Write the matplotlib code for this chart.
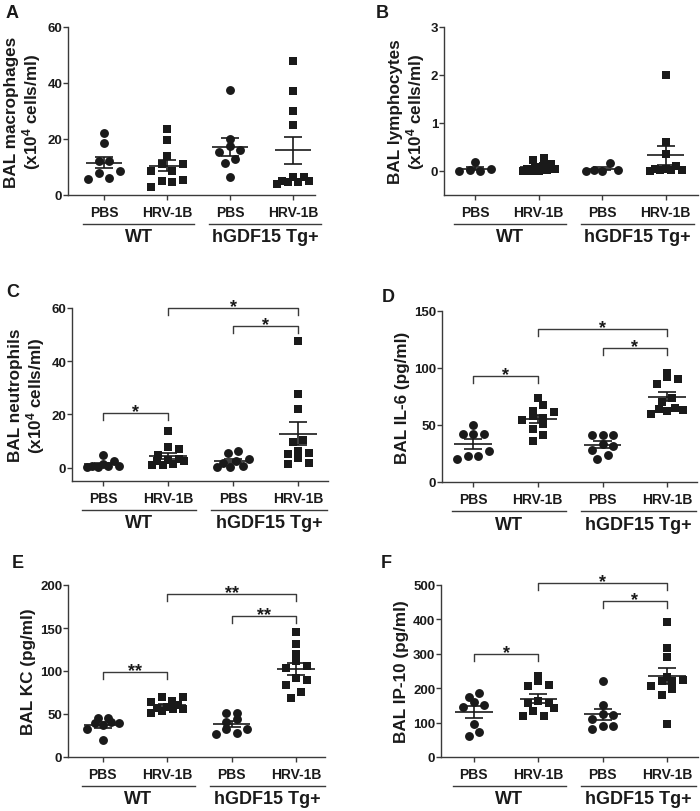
import numpy as np
import matplotlib
matplotlib.use("Agg")
import matplotlib.pyplot as plt
from matplotlib.lines import Line2D
from matplotlib.transforms import ScaledTranslation

plt.rcParams.update({
    "font.family": "Liberation Sans",
    "font.weight": "bold",
    "axes.labelweight": "bold",
    "mathtext.fontset": "custom",
    "mathtext.rm": "Liberation Sans:bold",
    "mathtext.bf": "Liberation Sans:bold",
    "mathtext.it": "Liberation Sans:bold",
})

# x categories
treatments = ["PBS", "HRV-1B", "PBS", "HRV-1B"]
genotypes = ["WT", "hGDF15 Tg+"]

# values per group: WT PBS, WT HRV-1B, Tg PBS, Tg HRV-1B
macrophages = [
    [22.0, 18.5, 12.0, 12.0, 8.5, 7.7, 6.0, 5.8],
    [23.5, 19.6, 14.0, 11.2, 11.2, 8.4, 8.4, 5.5, 5.1, 4.5, 3.0],
    [37.5, 20.0, 17.6, 16.0, 15.2, 13.0, 11.6, 6.3],
    [48.0, 37.0, 30.0, 25.0, 6.3, 6.3, 5.1, 5.0, 4.8, 4.5, 3.9],
]
lymphocytes = [
    [0.18, 0.04, 0.02, 0.0, 0.0],
    [0.27, 0.22, 0.14, 0.10, 0.08, 0.05, 0.04, 0.02, 0.0, 0.0, 0.0],
    [0.17, 0.03, 0.02, 0.0, 0.0],
    [2.0, 0.6, 0.36, 0.1, 0.05, 0.04, 0.03, 0.02, 0.02, 0.01],
]
neutrophils = [
    [4.7, 2.5, 1.5, 0.8, 0.5, 0.5, 0.3, 0.2],
    [13.8, 7.6, 7.1, 4.7, 3.1, 2.9, 2.5, 2.5, 1.2, 1.0, 1.0],
    [6.2, 5.7, 3.2, 2.5, 1.9, 0.5, 0.4, 0.4],
    [47.5, 27.8, 22.2, 10.3, 9.5, 6.2, 5.6, 5.1, 3.5, 1.6, 1.2],
]
il6 = [
    [50.4, 41.7, 41.7, 41.7, 26.8, 22.7, 22.7, 19.8],
    [74.0, 67.5, 62.0, 61.0, 58.0, 56.0, 54.0, 51.0, 46.5, 41.0, 36.0],
    [41.5, 41.5, 41.5, 33.0, 32.0, 28.5, 24.0, 20.0],
    [96.0, 92.5, 90.5, 86.0, 73.5, 70.0, 65.0, 64.0, 63.0, 62.0, 60.0],
]
kc = [
    [45.6, 45.0, 40.5, 39.4, 39.4, 36.7, 32.0, 19.3],
    [69.5, 69.5, 65.0, 63.7, 60.0, 58.0, 56.8, 56.0, 56.0, 53.3, 51.4],
    [51.4, 51.4, 44.4, 40.5, 32.0, 32.0, 28.2, 26.3],
    [145.6, 131.3, 119.7, 112.0, 106.0, 104.0, 91.5, 90.0, 84.0, 76.0, 68.3],
]
ip10 = [
    [186, 174, 159, 150, 145, 96, 72, 61],
    [235, 222, 210, 205, 162, 158, 158, 142, 135, 120, 120],
    [220, 152, 125, 123, 110, 90, 90, 82],
    [391, 317, 292, 234, 223, 222, 220, 207, 198, 181, 95],
]

# significance brackets: (group a, group b, y, label)
sig_c = [(0, 1, 20.6, "*"), (2, 3, 53.1, "*"), (1, 3, 60.0, "*")]
sig_d = [(0, 1, 93.0, "*"), (2, 3, 117.5, "*"), (1, 3, 134.0, "*")]
sig_e = [(0, 1, 98.5, "**"), (2, 3, 164.0, "**"), (1, 3, 189.0, "**")]
sig_f = [(0, 1, 299.0, "*"), (2, 3, 454.0, "*"), (1, 3, 507.0, "*")]

W, H = 700, 812
fig = plt.figure(figsize=(W / 100, H / 100), dpi=100)
INK = "#1a1a1a"
LINE = "#3a3a3a"


def add_panel(left, top, right, bottom, xlim):
    ax = fig.add_axes([left / W, 1 - bottom / H, (right - left) / W, (bottom - top) / H])
    ax.set_xlim(*xlim)
    return ax


def row_x(ax, x0, vals, d_px=10.5, bin_px=8.5, max_w=32):
    # GraphPad-like scatter: group close values into rows, center each row
    tr = ax.transData
    ypix = tr.transform(np.column_stack([np.full(len(vals), x0), vals]))[:, 1]
    ppx = tr.transform([[1, 0]])[0, 0] - tr.transform([[0, 0]])[0, 0]
    order = np.argsort(ypix, kind="stable")
    rows, cur, start = [], [order[0]], ypix[order[0]]
    for i in order[1:]:
        if ypix[i] - start < bin_px:
            cur.append(i)
        else:
            rows.append(cur)
            cur, start = [i], ypix[i]
    rows.append(cur)
    offs = np.zeros(len(vals))
    for row in rows:
        n = len(row)
        sp = d_px if n < 2 else min(d_px, max_w / (n - 1))
        # zigzag slots so a row does not look like a slope
        slots = list(range(0, n, 2)) + list(range(1, n, 2))
        for k, i in zip(slots, row):
            offs[i] = (k - (n - 1) / 2) * sp / ppx
    return x0 + offs


def px_down(ax, px):
    return ax.get_xaxis_transform() + ScaledTranslation(0, -px / 100, fig.dpi_scale_trans)


def draw_panel(ax, data, ylim, yticks, ylabel, letter, letter_xy, sig=None, labelpad=3):
    ax.set_ylim(*ylim)
    for g, vals in enumerate(data):
        vals = np.asarray(vals, dtype=float)
        xs = row_x(ax, g, vals)
        marker = "o" if g % 2 == 0 else "s"
        ms = 6.4 if marker == "o" else 5.8
        ax.plot(xs, vals, linestyle="none", marker=marker, ms=ms, color=INK,
                markeredgewidth=0, zorder=3, clip_on=False)
        m = vals.mean()
        se = vals.std(ddof=1) / np.sqrt(len(vals))
        ax.hlines(m, g - 0.29, g + 0.29, color=INK, lw=1.2, zorder=4)
        ax.vlines(g, m - se, m + se, color=INK, lw=1.2, zorder=4)
        ax.hlines([m - se, m + se], g - 0.14, g + 0.14, color=INK, lw=1.2, zorder=4)

    for s in ["top", "right"]:
        ax.spines[s].set_visible(False)
    for s in ["left", "bottom"]:
        ax.spines[s].set_color(LINE)
        ax.spines[s].set_linewidth(1.0)
    ax.set_yticks(yticks)
    ax.set_xticks(range(4))
    ax.set_xticklabels(treatments)
    ax.tick_params(axis="both", direction="out", length=3.6, width=1.0, color=LINE,
                   labelcolor=INK)
    ax.tick_params(axis="x", pad=3.5, labelsize=10)
    ax.tick_params(axis="y", pad=0.5, labelsize=9.5)
    ax.set_ylabel(ylabel, fontsize=12.3, color=INK, labelpad=labelpad, linespacing=1.05)

    # genotype underline + labels
    for name, (a, b) in zip(genotypes, [(-0.33, 1.43), (1.66, 3.45)]):
        ax.add_line(Line2D([a, b], [0, 0], transform=px_down(ax, 29), color=LINE,
                           lw=1.0, clip_on=False))
        ax.text((a + b) / 2, 0, name, transform=px_down(ax, 42), ha="center",
                va="center", fontsize=13, color=INK, clip_on=False)

    if sig:
        tr = ax.transData
        ppy = tr.transform([[0, 1]])[0, 1] - tr.transform([[0, 0]])[0, 1]
        tick = 7 / ppy
        for a, b, y, lab in sig:
            ax.plot([a, a, b, b], [y - tick, y, y, y - tick], color=LINE, lw=1.0,
                    clip_on=False, zorder=2)
            ax.annotate(lab, xy=((a + b) / 2, y), xytext=(0, -2.2), textcoords="offset points",
                        ha="center", va="baseline", fontsize=13, color=INK,
                        annotation_clip=False)

    fig.text(letter_xy[0] / W, 1 - letter_xy[1] / H, letter, fontsize=13,
             fontweight="bold", color=INK, ha="left", va="center")


ax_a = add_panel(68, 28, 315, 196, (-0.571, 3.349))
draw_panel(ax_a, macrophages, (0, 60), [0, 20, 40, 60],
           "BAL macrophages\n(x10$^{4}$ cells/ml)", "A", (6, 13))

ax_b = add_panel(444, 28, 698, 196, (-0.49, 3.51))
draw_panel(ax_b, lymphocytes, (-0.5, 3), [0, 1, 2, 3],
           "BAL lymphocytes\n(x10$^{4}$ cells/ml)", "B", (376, 13))

ax_c = add_panel(72, 309, 328, 482, (-0.477, 3.46))
draw_panel(ax_c, neutrophils, (-5, 60), [0, 20, 40, 60],
           "BAL neutrophils\n(x10$^{4}$ cells/ml)", "C", (6, 293), sig=sig_c)

ax_d = add_panel(442, 312, 697, 483, (-0.48, 3.46))
draw_panel(ax_d, il6, (0, 150), [0, 50, 100, 150],
           "BAL IL-6 (pg/ml)", "D", (382, 297), sig=sig_d)

ax_e = add_panel(68, 586, 325, 758, (-0.54, 3.45))
draw_panel(ax_e, kc, (0, 200), [0, 50, 100, 150, 200],
           "BAL KC (pg/ml)", "E", (12, 563), sig=sig_e)

ax_f = add_panel(441, 586, 698, 758, (-0.51, 3.48))
draw_panel(ax_f, ip10, (0, 500), [0, 100, 200, 300, 400, 500],
           "BAL IP-10 (pg/ml)", "F", (381, 563), sig=sig_f)

fig.savefig("out.png", dpi=100, facecolor="white")
